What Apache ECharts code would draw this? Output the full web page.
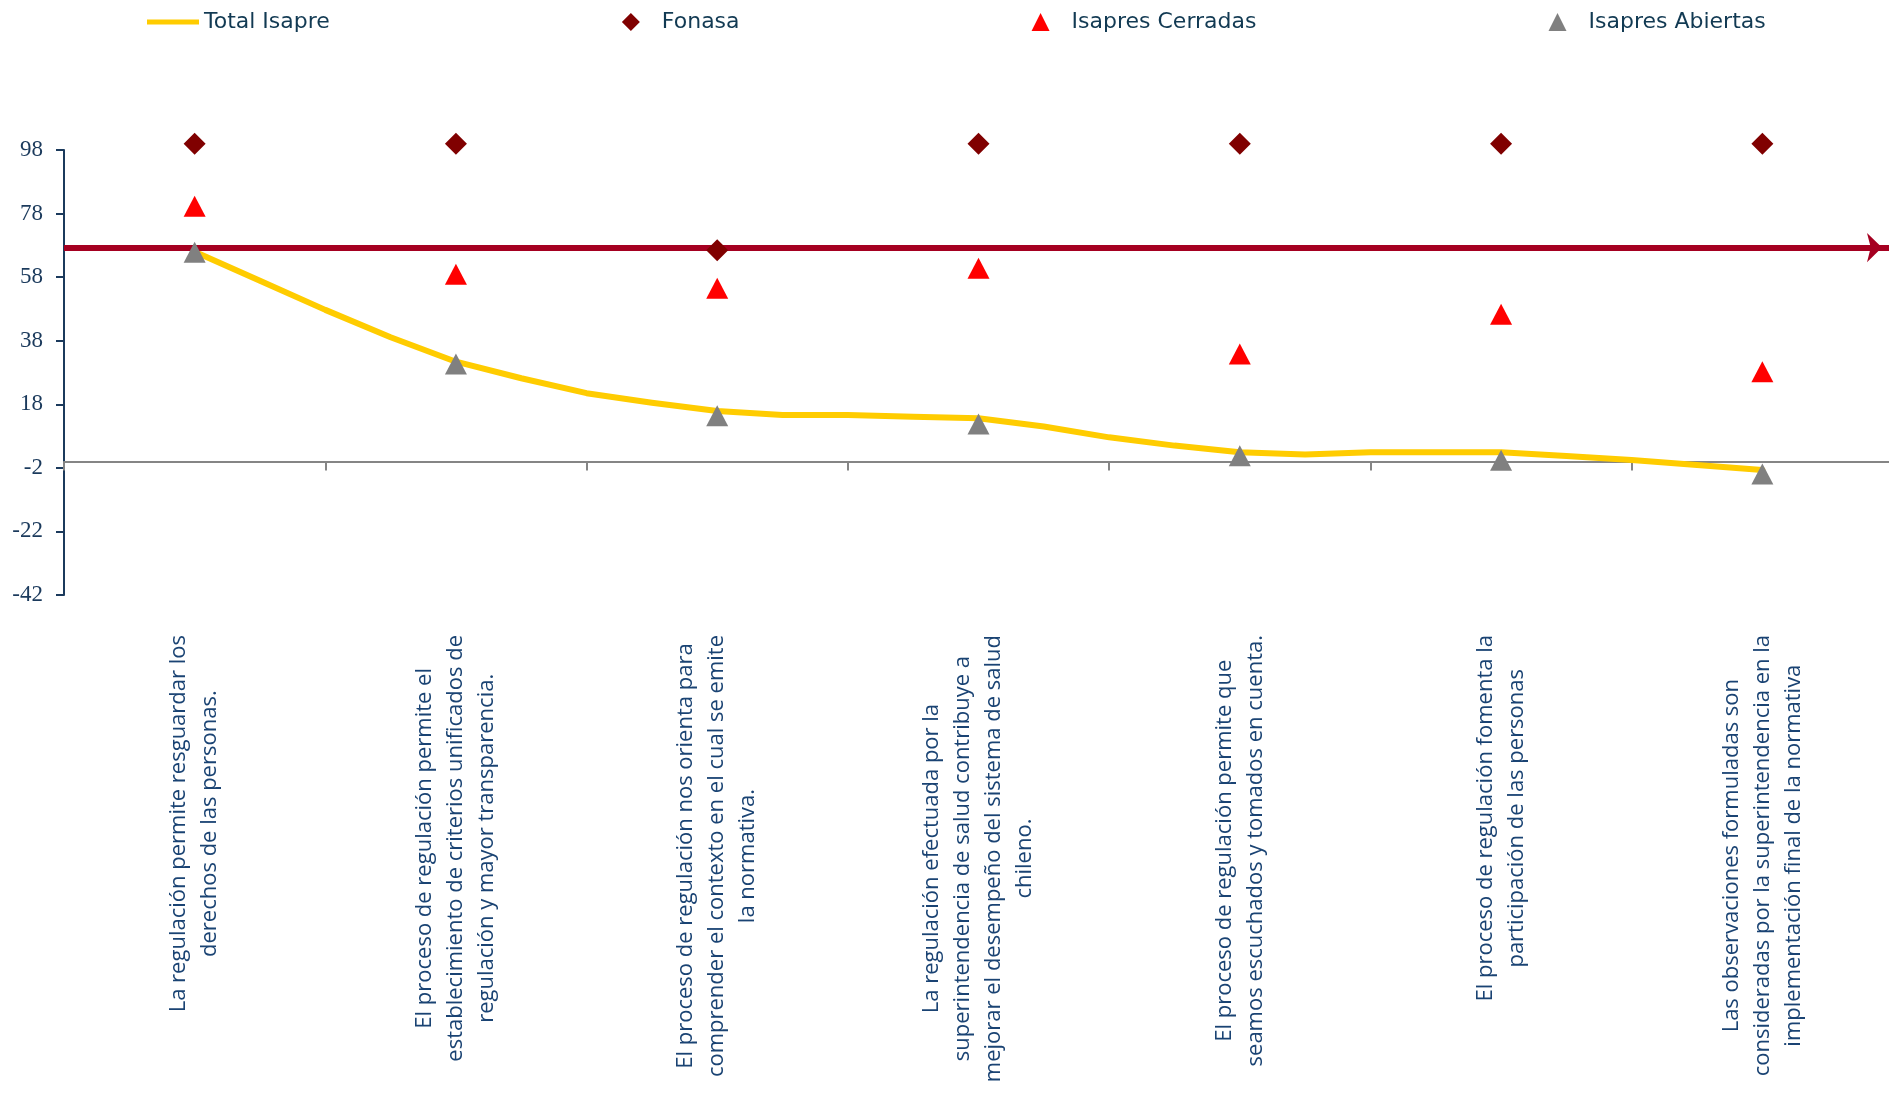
<!DOCTYPE html>
<html>
<head>
<meta charset="utf-8">
<title>Percepción de la regulación</title>
<script src="https://cdn.jsdelivr.net/npm/echarts@6/dist/echarts.min.js"></script>
<style>
  html, body { margin: 0; padding: 0; background: #ffffff; }
  #chart { width: 1889px; height: 1093px; }
</style>
</head>
<body>
<div id="chart"></div>
<script>
// Statements evaluated (one per category)
const categories = [
  'La regulación permite resguardar los\nderechos de las personas.',
  'El proceso de regulación permite el\nestablecimiento de criterios unificados de\nregulación y mayor transparencia.',
  'El proceso de regulación nos orienta para\ncomprender el contexto en el cual se emite\nla normativa.',
  'La regulación efectuada por la\nsuperintendencia de salud contribuye a\nmejorar el desempeño del sistema de salud\nchileno.',
  'El proceso de regulación permite que\nseamos escuchados y tomados en cuenta.',
  'El proceso de regulación fomenta la\nparticipación de las personas',
  'Las observaciones formuladas son\nconsideradas por la superintendencia en la\nimplementación final de la normativa'
];

// Scores per statement
const fonasa = [100, 100, 66.5, 100, 100, 100, 100];
const isapresCerradas = [80.3, 58.9, 54.5, 60.8, 33.8, 46.3, 28.2];
const isapresAbiertas = [65.8, 30.7, 14.4, 11.8, 1.8, 0.4, -3.9];

// Total Isapre curve: statement position (1 = first statement) and score
const totalPos = [1, 1.25, 1.5, 1.75, 2, 2.25, 2.5, 2.75, 3, 3.25, 3.5, 3.75, 4,
                  4.25, 4.5, 4.75, 5, 5.25, 5.5, 5.75, 6, 6.25, 6.5, 6.75, 7];
const totalIsapre = [66.0, 56.9, 47.7, 39.1, 31.4, 26.2, 21.5, 18.5, 15.9, 14.6, 14.6, 14.1, 13.6,
                     11.0, 7.6, 5.0, 2.9, 2.2, 2.9, 2.9, 2.9, 1.7, 0.5, -1.1, -2.7];

// Reference level drawn across the chart
const referenceLevel = 67.3;

// Value axis ticks
const yMin = -42, yMax = 98, yStep = 20;

const navy = '#1b3a5c';
const labelBlue = '#1a4373';

const chart = echarts.init(document.getElementById('chart'), null, { renderer: 'canvas' });

const lineIcon = 'path://M0,0L52,0L52,5L0,5Z';
const diamondIcon = 'path://M9,0L18,9L9,18L0,9Z';
const triangleIcon = 'path://M9,0L18,18L0,18Z';

chart.setOption({
  animation: false,
  backgroundColor: '#ffffff',
  legend: {
    top: 6,
    left: 142,
    itemWidth: 52,
    itemHeight: 18,
    itemGap: 292,
    textStyle: { fontFamily: 'DejaVu Sans', fontSize: 22, color: '#123a53' },
    data: [
      { name: 'Total Isapre', icon: lineIcon, itemStyle: { color: '#ffcc00' } },
      { name: 'Fonasa', icon: diamondIcon },
      { name: 'Isapres Cerradas', icon: triangleIcon },
      { name: 'Isapres Abiertas', icon: triangleIcon }
    ]
  },
  grid: { left: 64, top: 150, bottom: 498, width: 1829, containLabel: false, outerBoundsMode: 'none' },
  xAxis: [
    {
      type: 'category',
      data: categories,
      boundaryGap: true,
      axisLine: { onZero: true, lineStyle: { color: '#858585', width: 2 } },
      axisTick: { show: true, length: 9, lineStyle: { color: '#858585', width: 2 } },
      splitLine: { show: false },
      axisLabel: {
        interval: 0,
        rotate: 90,
        margin: 40,
        formatter: function (v) {
          return v.split('\n').map(function (l) { return '{c|' + l + '}'; }).join('\n');
        },
        rich: {
          c: { align: 'center', fontFamily: 'Open Sans', fontSize: 22, lineHeight: 31, color: labelBlue }
        }
      }
    },
    {
      type: 'value',
      show: false,
      min: 0.5,
      max: 7.5
    }
  ],
  yAxis: {
    type: 'value',
    min: yMin,
    max: yMax,
    interval: yStep,
    splitLine: { show: false },
    axisLine: { show: true, lineStyle: { color: navy, width: 2 } },
    axisTick: { show: true, length: 8, lineStyle: { color: navy, width: 2 } },
    axisLabel: { margin: 21, fontFamily: 'Liberation Serif', fontSize: 23, color: navy }
  },
  series: [
    {
      name: 'Total Isapre',
      type: 'line',
      xAxisIndex: 1,
      z: 2,
      symbol: 'none',
      smooth: false,
      clip: false,
      lineStyle: { color: '#ffcc00', width: 6, join: 'round', cap: 'round' },
      itemStyle: { color: '#ffcc00' },
      data: totalPos.map(function (p, i) { return [p, totalIsapre[i]]; }),
      markLine: {
        silent: true,
        z: 3,
        symbol: ['none', 'arrow'],
        symbolSize: [22, 15],
        symbolOffset: [0, [0, 11]],
        label: { show: false },
        lineStyle: { color: '#a50021', width: 6, type: 'solid' },
        emphasis: { disabled: true },
        data: [{ yAxis: referenceLevel }]
      }
    },
    {
      name: 'Fonasa',
      type: 'scatter',
      z: 6,
      clip: false,
      symbol: 'diamond',
      symbolSize: 22,
      itemStyle: { color: '#800000', opacity: 1 },
      data: fonasa
    },
    {
      name: 'Isapres Cerradas',
      type: 'scatter',
      z: 6,
      clip: false,
      symbol: 'triangle',
      symbolSize: [22, 21],
      itemStyle: { color: '#ff0000', opacity: 1 },
      data: isapresCerradas
    },
    {
      name: 'Isapres Abiertas',
      type: 'scatter',
      z: 6,
      clip: false,
      symbol: 'triangle',
      symbolSize: [22, 21],
      itemStyle: { color: '#808080', opacity: 1 },
      data: isapresAbiertas
    }
  ]
});
</script>
</body>
</html>
